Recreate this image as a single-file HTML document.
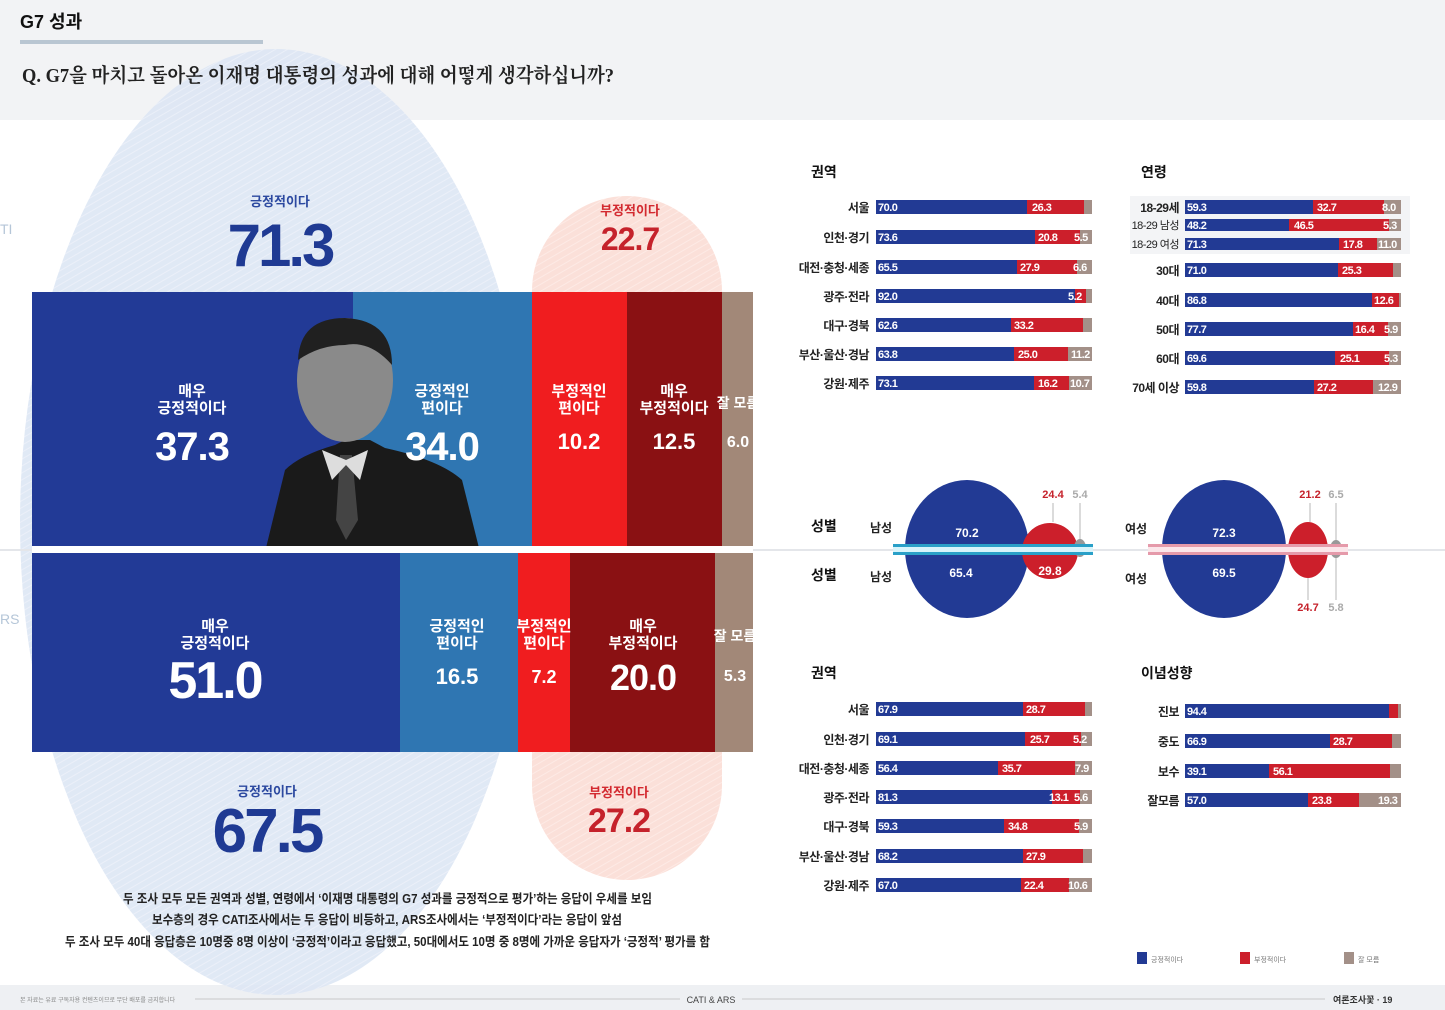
<!DOCTYPE html>
<html><head><meta charset="utf-8"><style>
html,body{margin:0;padding:0;background:#fff}
svg{display:block}
text{font-family:"Liberation Sans","Noto Sans CJK KR",sans-serif}
.w{fill:#fff;font-weight:bold}
.lb{font-size:12px;font-weight:bold;fill:#222;text-anchor:end;letter-spacing:-0.5px}
.v{font-size:11px;font-weight:bold;fill:#fff;letter-spacing:-0.5px}
</style></head><body>
<svg width="1445" height="1010" viewBox="0 0 1445 1010" xmlns="http://www.w3.org/2000/svg">
<defs>
<pattern id="st" width="6" height="6" patternUnits="userSpaceOnUse" patternTransform="rotate(60)">
<rect width="6" height="6" fill="#dde6f4"/><rect width="1" height="6" fill="#e9eef8"/></pattern>
<pattern id="sp" width="6" height="6" patternUnits="userSpaceOnUse" patternTransform="rotate(60)">
<rect width="6" height="6" fill="#fbe0d9"/><rect width="1" height="6" fill="#fdeae5"/></pattern>
</defs>
<rect x="0" y="0" width="1445" height="120" fill="#f2f3f5"/>
<rect x="0" y="985" width="1445" height="25" fill="#eef0f3"/>
<ellipse cx="276" cy="522" rx="256" ry="473" fill="url(#st)" opacity="0.9"/>
<rect x="532" y="196" width="190" height="684" rx="95" fill="url(#sp)"/>
<text x="20" y="28" font-size="18" font-weight="bold" fill="#111">G7 성과</text>
<rect x="20" y="40" width="243" height="4" fill="#b9c6d2"/>
<text x="22" y="82" font-size="20" fill="#222" textLength="592" lengthAdjust="spacingAndGlyphs" style="font-family:'Liberation Serif','Noto Serif CJK SC',serif;font-weight:bold">Q. G7을 마치고 돌아온 이재명 대통령의 성과에 대해 어떻게 생각하십니까?</text>
<text x="0" y="234" font-size="14" fill="#b5c6d8">TI</text>
<text x="0" y="624" font-size="14" fill="#b5c6d8">RS</text>

<text x="280" y="206" font-size="13" fill="#2c49a0" text-anchor="middle" font-weight="bold">긍정적이다</text>
<text x="280" y="266" font-size="60" fill="#1f3a93" text-anchor="middle" font-weight="bold" letter-spacing="-3">71.3</text>
<text x="630" y="215" font-size="13" fill="#d32a30" text-anchor="middle" font-weight="bold">부정적이다</text>
<text x="630" y="250" font-size="32" fill="#c5222b" text-anchor="middle" font-weight="bold" letter-spacing="-1">22.7</text>

<rect x="32" y="292" width="321" height="254" fill="#223a96"/>
<rect x="353" y="292" width="179" height="254" fill="#2f76b2"/>
<rect x="532" y="292" width="95" height="254" fill="#f01d1f"/>
<rect x="627" y="292" width="95" height="254" fill="#8a1113"/>
<rect x="722" y="292" width="31" height="254" fill="#a28878"/>
<path d="M265 552 L285 470 Q300 455 335 445 L345 440 L370 440 L385 448 Q440 460 462 480 L480 552 Z" fill="#1a1a1a"/>
<ellipse cx="345" cy="380" rx="48" ry="62" fill="#8a8a8a"/>
<path d="M298 360 Q300 318 345 318 Q392 320 392 365 Q370 340 345 345 Q320 345 298 360Z" fill="#202020"/>
<path d="M340 455 L352 455 L358 520 L346 540 L336 520 Z" fill="#444"/>
<path d="M322 450 L346 460 L368 450 L360 480 L346 465 L332 480Z" fill="#ddd"/>

<g text-anchor="middle">
<text x="192" y="396" font-size="15" class="w">매우</text>
<text x="192" y="413" font-size="15" class="w">긍정적이다</text>
<text x="192" y="460" font-size="40" class="w" letter-spacing="-1">37.3</text>
<text x="442" y="396" font-size="15" class="w">긍정적인</text>
<text x="442" y="413" font-size="15" class="w">편이다</text>
<text x="442" y="460" font-size="40" class="w" letter-spacing="-1">34.0</text>
<text x="579" y="396" font-size="15" class="w">부정적인</text>
<text x="579" y="413" font-size="15" class="w">편이다</text>
<text x="579" y="449" font-size="22" class="w">10.2</text>
<text x="674" y="396" font-size="15" class="w">매우</text>
<text x="674" y="413" font-size="15" class="w">부정적이다</text>
<text x="674" y="449" font-size="22" class="w">12.5</text>
<text x="738" y="408" font-size="14" class="w">잘 모름</text>
<text x="738" y="447" font-size="16" class="w">6.0</text>
</g>

<rect x="0" y="549" width="1445" height="2" fill="#e4e6ea"/>
<rect x="32" y="546" width="721" height="7" fill="#fff"/>

<rect x="32" y="553" width="368" height="199" fill="#223a96"/>
<rect x="400" y="553" width="118" height="199" fill="#2f76b2"/>
<rect x="518" y="553" width="52" height="199" fill="#f01d1f"/>
<rect x="570" y="553" width="145" height="199" fill="#8a1113"/>
<rect x="715" y="553" width="38" height="199" fill="#a28878"/>
<g text-anchor="middle">
<text x="215" y="631" font-size="15" class="w">매우</text>
<text x="215" y="648" font-size="15" class="w">긍정적이다</text>
<text x="215" y="698" font-size="52" class="w" letter-spacing="-2">51.0</text>
<text x="457" y="631" font-size="15" class="w">긍정적인</text>
<text x="457" y="648" font-size="15" class="w">편이다</text>
<text x="457" y="684" font-size="22" class="w">16.5</text>
<text x="544" y="631" font-size="15" class="w">부정적인</text>
<text x="544" y="648" font-size="15" class="w">편이다</text>
<text x="544" y="683" font-size="18" class="w">7.2</text>
<text x="643" y="631" font-size="15" class="w">매우</text>
<text x="643" y="648" font-size="15" class="w">부정적이다</text>
<text x="643" y="690" font-size="36" class="w" letter-spacing="-1">20.0</text>
<text x="735" y="641" font-size="14" class="w">잘 모름</text>
<text x="735" y="681" font-size="16" class="w">5.3</text>
<text x="267" y="796" font-size="13" fill="#2c49a0" font-weight="bold">긍정적이다</text>
<text x="267" y="852" font-size="62" fill="#1f3a93" font-weight="bold" letter-spacing="-3">67.5</text>
<text x="619" y="797" font-size="13" fill="#d32a30" font-weight="bold">부정적이다</text>
<text x="619" y="832" font-size="34" fill="#c5222b" font-weight="bold" letter-spacing="-1">27.2</text>
</g>
<text x="123" y="903" font-size="12.5" fill="#222" font-weight="bold" textLength="529" lengthAdjust="spacingAndGlyphs">두 조사 모두 모든 권역과 성별, 연령에서 ‘이재명 대통령의 G7 성과를 긍정적으로 평가’하는 응답이 우세를 보임</text>
<text x="152" y="924" font-size="12.5" fill="#222" font-weight="bold" textLength="470" lengthAdjust="spacingAndGlyphs">보수층의 경우 CATI조사에서는 두 응답이 비등하고, ARS조사에서는 ‘부정적이다’라는 응답이 앞섬</text>
<text x="65" y="946" font-size="12.5" fill="#222" font-weight="bold" textLength="645" lengthAdjust="spacingAndGlyphs">두 조사 모두 40대 응답층은 10명중 8명 이상이 ‘긍정적’이라고 응답했고, 50대에서도 10명 중 8명에 가까운 응답자가 ‘긍정적’ 평가를 함</text>

<g font-size="14" font-weight="bold" fill="#111">
<text x="811" y="177">권역</text><text x="1141" y="177">연령</text>
<text x="811" y="531">성별</text><text x="811" y="580">성별</text>
<text x="811" y="678">권역</text><text x="1141" y="678">이념성향</text>
</g>

<g>
<rect x="876" y="200" width="151" height="14" fill="#223a94"/><rect x="1027" y="200" width="57" height="14" fill="#cc1f2b"/><rect x="1084" y="200" width="8" height="14" fill="#a39088"/>
<rect x="876" y="230" width="159" height="14" fill="#223a94"/><rect x="1035" y="230" width="45" height="14" fill="#cc1f2b"/><rect x="1080" y="230" width="12" height="14" fill="#a39088"/>
<rect x="876" y="260" width="141" height="14" fill="#223a94"/><rect x="1017" y="260" width="60" height="14" fill="#cc1f2b"/><rect x="1077" y="260" width="15" height="14" fill="#a39088"/>
<rect x="876" y="289" width="199" height="14" fill="#223a94"/><rect x="1075" y="289" width="11" height="14" fill="#cc1f2b"/><rect x="1086" y="289" width="6" height="14" fill="#a39088"/>
<rect x="876" y="318" width="135" height="14" fill="#223a94"/><rect x="1011" y="318" width="72" height="14" fill="#cc1f2b"/><rect x="1083" y="318" width="9" height="14" fill="#a39088"/>
<rect x="876" y="347" width="138" height="14" fill="#223a94"/><rect x="1014" y="347" width="54" height="14" fill="#cc1f2b"/><rect x="1068" y="347" width="24" height="14" fill="#a39088"/>
<rect x="876" y="376" width="158" height="14" fill="#223a94"/><rect x="1034" y="376" width="35" height="14" fill="#cc1f2b"/><rect x="1069" y="376" width="23" height="14" fill="#a39088"/>
<text class="lb" x="869" y="212">서울</text><text class="lb" x="869" y="242">인천·경기</text><text class="lb" x="869" y="272">대전·충청·세종</text><text class="lb" x="869" y="301">광주·전라</text><text class="lb" x="869" y="330">대구·경북</text><text class="lb" x="869" y="359">부산·울산·경남</text><text class="lb" x="869" y="388">강원·제주</text>
<text class="v" x="878" y="211">70.0</text><text class="v" x="1032" y="211">26.3</text>
<text class="v" x="878" y="241">73.6</text><text class="v" x="1038" y="241">20.8</text><text class="v" x="1074" y="241">5.5</text>
<text class="v" x="878" y="271">65.5</text><text class="v" x="1020" y="271">27.9</text><text class="v" x="1073" y="271">6.6</text>
<text class="v" x="878" y="300">92.0</text><text class="v" x="1068" y="300">5.2</text>
<text class="v" x="878" y="329">62.6</text><text class="v" x="1014" y="329">33.2</text>
<text class="v" x="878" y="358">63.8</text><text class="v" x="1018" y="358">25.0</text><text class="v" x="1071" y="358">11.2</text>
<text class="v" x="878" y="387">73.1</text><text class="v" x="1038" y="387">16.2</text><text class="v" x="1070" y="387">10.7</text>
</g>

<rect x="1130" y="196" width="280" height="58" fill="#f3f4f6"/>
<g>
<rect x="1185" y="200" width="128" height="14" fill="#223a94"/><rect x="1313" y="200" width="71" height="14" fill="#cc1f2b"/><rect x="1384" y="200" width="17" height="14" fill="#a39088"/>
<rect x="1185" y="219" width="104" height="12" fill="#223a94"/><rect x="1289" y="219" width="100" height="12" fill="#cc1f2b"/><rect x="1389" y="219" width="12" height="12" fill="#a39088"/>
<rect x="1185" y="238" width="154" height="12" fill="#223a94"/><rect x="1339" y="238" width="38" height="12" fill="#cc1f2b"/><rect x="1377" y="238" width="24" height="12" fill="#a39088"/>
<rect x="1185" y="263" width="153" height="14" fill="#223a94"/><rect x="1338" y="263" width="55" height="14" fill="#cc1f2b"/><rect x="1393" y="263" width="8" height="14" fill="#a39088"/>
<rect x="1185" y="293" width="187" height="14" fill="#223a94"/><rect x="1372" y="293" width="27" height="14" fill="#cc1f2b"/><rect x="1399" y="293" width="2" height="14" fill="#a39088"/>
<rect x="1185" y="322" width="168" height="14" fill="#223a94"/><rect x="1353" y="322" width="35" height="14" fill="#cc1f2b"/><rect x="1388" y="322" width="13" height="14" fill="#a39088"/>
<rect x="1185" y="351" width="150" height="14" fill="#223a94"/><rect x="1335" y="351" width="54" height="14" fill="#cc1f2b"/><rect x="1389" y="351" width="12" height="14" fill="#a39088"/>
<rect x="1185" y="380" width="129" height="14" fill="#223a94"/><rect x="1314" y="380" width="59" height="14" fill="#cc1f2b"/><rect x="1373" y="380" width="28" height="14" fill="#a39088"/>
<text class="lb" x="1179" y="212">18-29세</text>
<text class="lb" x="1179" y="229" style="font-weight:normal;font-size:11px">18-29 남성</text>
<text class="lb" x="1179" y="248" style="font-weight:normal;font-size:11px">18-29 여성</text>
<text class="lb" x="1179" y="275">30대</text><text class="lb" x="1179" y="305">40대</text><text class="lb" x="1179" y="334">50대</text><text class="lb" x="1179" y="363">60대</text><text class="lb" x="1179" y="392">70세 이상</text>
<text class="v" x="1187" y="211">59.3</text><text class="v" x="1317" y="211">32.7</text><text class="v" x="1382" y="211">8.0</text>
<text class="v" x="1187" y="229">48.2</text><text class="v" x="1294" y="229">46.5</text><text class="v" x="1383" y="229">5.3</text>
<text class="v" x="1187" y="248">71.3</text><text class="v" x="1343" y="248">17.8</text><text class="v" x="1378" y="248">11.0</text>
<text class="v" x="1187" y="274">71.0</text><text class="v" x="1342" y="274">25.3</text>
<text class="v" x="1187" y="304">86.8</text><text class="v" x="1374" y="304">12.6</text>
<text class="v" x="1187" y="333">77.7</text><text class="v" x="1355" y="333">16.4</text><text class="v" x="1384" y="333">5.9</text>
<text class="v" x="1187" y="362">69.6</text><text class="v" x="1340" y="362">25.1</text><text class="v" x="1384" y="362">5.3</text>
<text class="v" x="1187" y="391">59.8</text><text class="v" x="1317" y="391">27.2</text><text class="v" x="1378" y="391">12.9</text>
</g>

<g>
<text x="870" y="532" font-size="12" font-weight="bold" fill="#222">남성</text>
<text x="870" y="581" font-size="12" font-weight="bold" fill="#222">남성</text>
<text x="1125" y="533" font-size="12" font-weight="bold" fill="#222">여성</text>
<text x="1125" y="583" font-size="12" font-weight="bold" fill="#222">여성</text>
<ellipse cx="967" cy="549" rx="62" ry="69" fill="#223a94"/>
<ellipse cx="1050" cy="551" rx="28" ry="28" fill="#cc1f2b"/>
<ellipse cx="1080" cy="548" rx="6" ry="9" fill="#999"/>
<rect x="893" y="544" width="200" height="3" fill="#2aa0c8"/><rect x="893" y="547" width="200" height="5" fill="#d8f4fb"/><rect x="893" y="552" width="200" height="3" fill="#2aa0c8"/>
<text x="967" y="537" font-size="12" class="w" text-anchor="middle">70.2</text>
<text x="961" y="577" font-size="12" class="w" text-anchor="middle">65.4</text>
<text x="1050" y="575" font-size="12" class="w" text-anchor="middle">29.8</text>
<text x="1053" y="498" font-size="11" font-weight="bold" fill="#c5222b" text-anchor="middle">24.4</text>
<text x="1080" y="498" font-size="11" font-weight="bold" fill="#aaa" text-anchor="middle">5.4</text>
<line x1="1053" y1="503" x2="1053" y2="522" stroke="#999" stroke-width="0.7"/>
<line x1="1080" y1="503" x2="1080" y2="540" stroke="#999" stroke-width="0.7"/>

<ellipse cx="1224" cy="549" rx="62" ry="69" fill="#223a94"/>
<ellipse cx="1308" cy="550" rx="20" ry="28" fill="#cc1f2b"/>
<ellipse cx="1336" cy="549" rx="6" ry="9" fill="#999"/>
<rect x="1148" y="544" width="200" height="3" fill="#e59aaa"/><rect x="1148" y="547" width="200" height="5" fill="#fbe6ea"/><rect x="1148" y="552" width="200" height="3" fill="#e59aaa"/>
<text x="1224" y="537" font-size="12" class="w" text-anchor="middle">72.3</text>
<text x="1224" y="577" font-size="12" class="w" text-anchor="middle">69.5</text>
<text x="1310" y="498" font-size="11" font-weight="bold" fill="#c5222b" text-anchor="middle">21.2</text>
<text x="1336" y="498" font-size="11" font-weight="bold" fill="#aaa" text-anchor="middle">6.5</text>
<text x="1308" y="611" font-size="11" font-weight="bold" fill="#c5222b" text-anchor="middle">24.7</text>
<text x="1336" y="611" font-size="11" font-weight="bold" fill="#aaa" text-anchor="middle">5.8</text>
<line x1="1310" y1="503" x2="1310" y2="522" stroke="#999" stroke-width="0.7"/>
<line x1="1336" y1="503" x2="1336" y2="540" stroke="#999" stroke-width="0.7"/>
<line x1="1308" y1="578" x2="1308" y2="600" stroke="#999" stroke-width="0.7"/>
<line x1="1336" y1="558" x2="1336" y2="600" stroke="#999" stroke-width="0.7"/>
</g>

<g>
<rect x="876" y="702" width="147" height="14" fill="#223a94"/><rect x="1023" y="702" width="62" height="14" fill="#cc1f2b"/><rect x="1085" y="702" width="7" height="14" fill="#a39088"/>
<rect x="876" y="732" width="149" height="14" fill="#223a94"/><rect x="1025" y="732" width="56" height="14" fill="#cc1f2b"/><rect x="1081" y="732" width="11" height="14" fill="#a39088"/>
<rect x="876" y="761" width="122" height="14" fill="#223a94"/><rect x="998" y="761" width="77" height="14" fill="#cc1f2b"/><rect x="1075" y="761" width="17" height="14" fill="#a39088"/>
<rect x="876" y="790" width="176" height="14" fill="#223a94"/><rect x="1052" y="790" width="28" height="14" fill="#cc1f2b"/><rect x="1080" y="790" width="12" height="14" fill="#a39088"/>
<rect x="876" y="819" width="128" height="14" fill="#223a94"/><rect x="1004" y="819" width="75" height="14" fill="#cc1f2b"/><rect x="1079" y="819" width="13" height="14" fill="#a39088"/>
<rect x="876" y="849" width="147" height="14" fill="#223a94"/><rect x="1023" y="849" width="60" height="14" fill="#cc1f2b"/><rect x="1083" y="849" width="9" height="14" fill="#a39088"/>
<rect x="876" y="878" width="145" height="14" fill="#223a94"/><rect x="1021" y="878" width="48" height="14" fill="#cc1f2b"/><rect x="1069" y="878" width="23" height="14" fill="#a39088"/>
<text class="lb" x="869" y="714">서울</text><text class="lb" x="869" y="744">인천·경기</text><text class="lb" x="869" y="773">대전·충청·세종</text><text class="lb" x="869" y="802">광주·전라</text><text class="lb" x="869" y="831">대구·경북</text><text class="lb" x="869" y="861">부산·울산·경남</text><text class="lb" x="869" y="890">강원·제주</text>
<text class="v" x="878" y="713">67.9</text><text class="v" x="1026" y="713">28.7</text>
<text class="v" x="878" y="743">69.1</text><text class="v" x="1030" y="743">25.7</text><text class="v" x="1073" y="743">5.2</text>
<text class="v" x="878" y="772">56.4</text><text class="v" x="1002" y="772">35.7</text><text class="v" x="1075" y="772">7.9</text>
<text class="v" x="878" y="801">81.3</text><text class="v" x="1049" y="801">13.1</text><text class="v" x="1074" y="801">5.6</text>
<text class="v" x="878" y="830">59.3</text><text class="v" x="1008" y="830">34.8</text><text class="v" x="1074" y="830">5.9</text>
<text class="v" x="878" y="860">68.2</text><text class="v" x="1026" y="860">27.9</text>
<text class="v" x="878" y="889">67.0</text><text class="v" x="1024" y="889">22.4</text><text class="v" x="1068" y="889">10.6</text>
</g>

<g>
<rect x="1185" y="704" width="204" height="14" fill="#223a94"/><rect x="1389" y="704" width="9" height="14" fill="#cc1f2b"/><rect x="1398" y="704" width="3" height="14" fill="#a39088"/>
<rect x="1185" y="734" width="145" height="14" fill="#223a94"/><rect x="1330" y="734" width="62" height="14" fill="#cc1f2b"/><rect x="1392" y="734" width="9" height="14" fill="#a39088"/>
<rect x="1185" y="764" width="84" height="14" fill="#223a94"/><rect x="1269" y="764" width="121" height="14" fill="#cc1f2b"/><rect x="1390" y="764" width="11" height="14" fill="#a39088"/>
<rect x="1185" y="793" width="123" height="14" fill="#223a94"/><rect x="1308" y="793" width="51" height="14" fill="#cc1f2b"/><rect x="1359" y="793" width="42" height="14" fill="#a39088"/>
<text class="lb" x="1179" y="716">진보</text><text class="lb" x="1179" y="746">중도</text><text class="lb" x="1179" y="776">보수</text><text class="lb" x="1179" y="805">잘모름</text>
<text class="v" x="1187" y="715">94.4</text>
<text class="v" x="1187" y="745">66.9</text><text class="v" x="1333" y="745">28.7</text>
<text class="v" x="1187" y="775">39.1</text><text class="v" x="1273" y="775">56.1</text>
<text class="v" x="1187" y="804">57.0</text><text class="v" x="1312" y="804">23.8</text><text class="v" x="1378" y="804">19.3</text>
</g>

<rect x="1137" y="952" width="10" height="12" fill="#223a94"/><text x="1151" y="962" font-size="7" fill="#777">긍정적이다</text>
<rect x="1240" y="952" width="10" height="12" fill="#cc1f2b"/><text x="1254" y="962" font-size="7" fill="#777">부정적이다</text>
<rect x="1344" y="952" width="10" height="12" fill="#a39088"/><text x="1358" y="962" font-size="7" fill="#777">잘 모름</text>

<text x="20" y="1002" font-size="6" fill="#888">본 자료는 유료 구독자용 컨텐츠이므로 무단 배포를 금지합니다</text>
<line x1="195" y1="999" x2="680" y2="999" stroke="#bbb" stroke-width="0.8"/>
<text x="711" y="1003" font-size="9" fill="#444" text-anchor="middle">CATI &amp; ARS</text>
<line x1="742" y1="999" x2="1325" y2="999" stroke="#bbb" stroke-width="0.8"/>
<text x="1333" y="1003" font-size="9" font-weight="bold" fill="#333">여론조사꽃 · 19</text>
</svg>
</body></html>
